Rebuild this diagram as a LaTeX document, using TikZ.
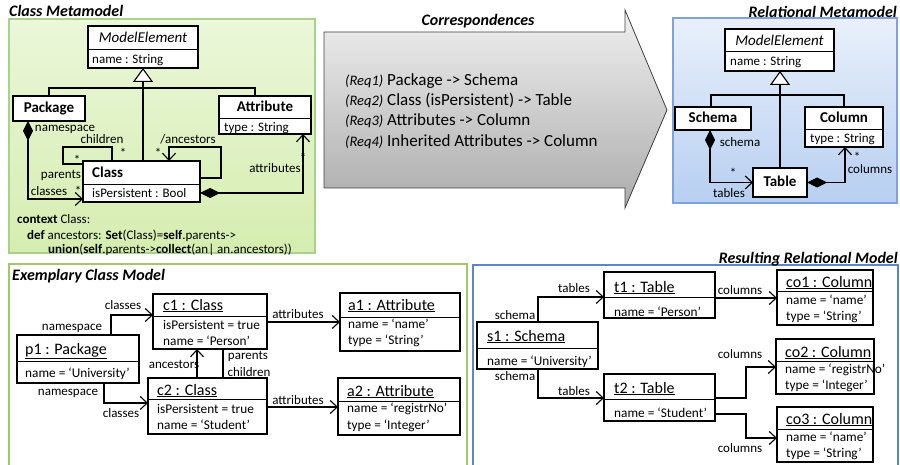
\documentclass[tikz,border=0pt]{standalone}
\usepackage{fontspec}
\setmainfont{Carlito}
\usetikzlibrary{arrows.meta}

% font sizes (1 unit = 1pt)
\newcommand\fsTitle{\fontsize{16}{19}\selectfont\bfseries\itshape}
\newcommand\fsName{\fontsize{15}{18}\selectfont}
\newcommand\fsAttr{\fontsize{13}{15}\selectfont}
\newcommand\fsObj{\fontsize{16}{19}\selectfont}
\newcommand\fsVal{\fontsize{13.3}{16}\selectfont}
\newcommand\fsReq{\fontsize{17}{20}\selectfont}
\newcommand\fsReqTag{\fontsize{14.5}{17}\selectfont\itshape}
\newcommand\fsOcl{\fontsize{13}{15}\selectfont}

\definecolor{grnFillT}{HTML}{EBF7D9}
\definecolor{grnFillB}{HTML}{D5EDB0}
\definecolor{grnLine}{HTML}{A9D18E}
\definecolor{bluFillT}{HTML}{E9F0FB}
\definecolor{bluFillB}{HTML}{B7CFF1}
\definecolor{bluLine}{HTML}{7DA3DA}
\definecolor{grnFrame}{HTML}{A3C76B}
\definecolor{bluFrame}{HTML}{5B87C8}
\definecolor{arrTop}{HTML}{F0F0F0}
\definecolor{arrBot}{HTML}{ABABAB}

% a UML box given by its corners, and a compartment separator
\newcommand\umlrect[5]{\node[umlbox, minimum width={#4-#2}, minimum height={#5-#3}] (#1) at ({(#2+#4)/2},{(#3+#5)/2}) {};}
\newcommand\umlsep[2]{\draw[sepline] (#1.west |- 0,#2) -- (#1.east |- 0,#2);}

\begin{document}
\begin{tikzpicture}[x=1pt,y=-1pt,
  umlbox/.style={draw=black, line width=1.2pt, fill=white, inner sep=0pt, outer sep=0pt},
  sepline/.style={line width=1pt},
  wire/.style={line width=1.1pt},
  assoc/.style={wire, -{Straight Barb[length=7pt,width=13pt]}},
  comp/.style={wire, {Diamond[length=20pt,width=10pt]}-{Straight Barb[length=7pt,width=13pt]}},
  gen/.style={wire, -{Triangle[length=14pt,width=20pt,fill=white]}},
  ttl/.style={font=\fsTitle, inner sep=0pt, text height=12pt, text depth=1.8pt},
  cname/.style={font=\fsName\bfseries, inner sep=0pt, text height=11.2pt, text depth=1.7pt},
  aname/.style={font=\fsName\itshape, inner sep=0pt, text height=11.2pt, text depth=1.7pt},
  attr/.style={font=\fsAttr, inner sep=0pt, anchor=west, text height=9.8pt, text depth=1.4pt},
  lbl/.style={font=\fsAttr, inner sep=0pt, text height=9.8pt, text depth=1.4pt},
  star/.style={font=\fsAttr, inner sep=0pt, text height=9.6pt, text depth=-5.2pt},
  oname/.style={font=\fsObj, inner sep=0pt, anchor=west, text height=12pt, text depth=1.8pt},
  oval/.style={font=\fsVal, inner sep=0pt, anchor=west, text height=10pt, text depth=1.5pt},
  req/.style={font=\fsReq, inner sep=0pt, anchor=west, text height=12.8pt, text depth=1.9pt},
  reqtag/.style={font=\fsReqTag, inner sep=0pt, anchor=west, text height=12.8pt, text depth=1.9pt},
  ocl/.style={font=\fsOcl, inner sep=0pt, anchor=west, text height=9.8pt, text depth=1.4pt}]

\useasboundingbox (0,0) rectangle (900,465);

% ---------- panels ----------
\path[draw=grnLine, line width=1.5pt, top color=grnFillT, bottom color=grnFillB] (9,19) rectangle (315,253);
\path[draw=bluLine, line width=1.5pt, top color=bluFillT, bottom color=bluFillB] (673,18) rectangle (897,203);
\draw[grnFrame, line width=1.6pt] (9,470) -- (9,264) -- (467,264) -- (467,470);
\draw[bluFrame, line width=1.6pt] (473,470) -- (473,265) -- (898,265) -- (898,470);

\node[ttl, anchor=west] (tCM) at (9,11) {Class Metamodel};
\node[ttl] (tCorr) at (478,20) {Correspondences};
\node[ttl, anchor=east] (tRM) at (897,12) {Relational Metamodel};
\node[ttl, anchor=west] (tEx) at (12,275) {Exemplary Class Model};
\node[ttl, anchor=east] (tRes) at (898,258) {Resulting Relational Model};

% ---------- correspondences arrow ----------
\path[draw=black!75, line width=0.8pt, top color=arrTop, bottom color=arrBot]
  (324,32) -- (625,32) -- (625,10) -- (667,110) -- (625,208) -- (625,188) -- (324,188) -- cycle;
\node[reqtag] (r1a) at (345,80) {(Req1)};
\node[req] (r1b) at (387,80) {Package -> Schema};
\node[reqtag] (r2a) at (345,100) {(Req2)};
\node[req] (r2b) at (387,100) {Class (isPersistent) -> Table};
\node[reqtag] (r3a) at (345,120) {(Req3)};
\node[req] (r3b) at (387,120) {Attributes -> Column};
\node[reqtag] (r4a) at (345,141) {(Req4)};
\node[req] (r4b) at (387,141) {Inherited Attributes -> Column};

% ---------- class metamodel ----------
\umlrect{me}{88}{26}{198}{68} \umlsep{me}{50}
\umlrect{pkg}{13}{96}{85}{121}
\umlrect{attrb}{219}{96}{311}{134} \umlsep{attrb}{119}
\umlrect{cls}{83}{161}{200}{202} \umlsep{cls}{185}

\node[aname] (meT) at (143,38) {ModelElement};
\node[attr] (meA) at (92,59) {name : String};
\node[cname] (pkgT) at (49,108) {Package};
\node[cname] (attrT) at (265,107) {Attribute};
\node[attr] (attrA) at (224,127) {type : String};
\node[cname, anchor=west] (clsT) at (92,173) {Class};
\node[attr] (clsA) at (92,193) {isPersistent : Bool};

\draw[gen] (cls.north -| 143,0) -- (me.south -| 143,0);
\draw[wire] (pkg.north) -- (pkg.north |- 0,88) -- (attrb.north |- 0,88 -| 255,0) -- (attrb.north -| 255,0);
\draw[comp] (pkg.south -| 28,0) |- (cls.west |- 0,199);
\draw[wire] (cls.west |- 0,164) -- (63,164) -- (63,147) -- (112,147) -- (cls.north -| 112,0);
\draw[assoc] (cls.east |- 0,178) -- (221,178) -- (221,147) -- (169,147) -- (cls.north -| 169,0);
\draw[comp] (cls.east |- 0,193) -| (attrb.south -| 303,0);

\node[lbl] (lNs) at (65,127) {namespace};
\node[lbl] (lCh) at (102,139) {children};
\node[star] (sCh) at (123,153) {*};
\node[star] (sPa) at (77,160) {*};
\node[lbl] (lPa) at (61,174) {parents};
\node[lbl] (lCl) at (49,191) {classes};
\node[star] (sCl) at (78,191) {*};
\node[lbl] (lAn) at (188,139) {/ancestors};
\node[star] (sAn) at (158,153) {*};
\node[star] (sAt) at (303,158) {*};
\node[lbl] (lAt) at (275,168) {attributes};

\node[ocl] (o1) at (17,219) {\textbf{context} Class:};
\node[ocl] (o2) at (27,235) {\textbf{def} ancestors: \textbf{Set}(Class)=\textbf{self}.parents->};
\node[ocl] (o3) at (48,249) {\textbf{union}(\textbf{self}.parents->\textbf{collect}(an| an.ancestors))};

% ---------- relational metamodel ----------
\umlrect{meR}{725}{29}{834}{71} \umlsep{meR}{52}
\umlrect{sch}{675}{107}{751}{130}
\umlrect{col}{805}{107}{883}{147} \umlsep{col}{130}
\umlrect{tab}{753}{168}{807}{197}

\node[aname] (meRT) at (779.5,41) {ModelElement};
\node[attr] (meRA) at (730,61) {name : String};
\node[cname] (schT) at (713,118) {Schema};
\node[cname] (colT) at (844,118) {Column};
\node[attr] (colA) at (810,138) {type : String};
\node[cname] (tabT) at (780,182) {Table};

\draw[gen] (tab.north) -- (tab.north |- meR.south);
\draw[wire] (sch.north -| 711,0) -- (711,95) -- (844,95) -- (col.north -| 844,0);
\draw[comp] (sch.south -| 710,0) |- (tab.west);
\draw[comp] (tab.east) -| (col.south -| 845,0);

\node[lbl] (lSc) at (740,142) {schema};
\node[star] (sTb) at (733,173) {*};
\node[lbl] (lTb) at (729,193) {tables};
\node[star] (sCo) at (857,157) {*};
\node[lbl] (lCo) at (870,169) {columns};

% ---------- exemplary class model ----------
\umlrect{p1}{17}{335}{139}{383} \umlsep{p1}{361}
\umlrect{c1}{153}{294}{267}{349} \umlsep{c1}{316}
\umlrect{c2}{148}{378}{267}{434} \umlsep{c2}{399}
\umlrect{a1}{340}{293}{460}{351} \umlsep{a1}{317}
\umlrect{a2}{338}{378}{460}{435} \umlsep{a2}{401}

\node[oname] (p1T) at (25,349) {\underline{p1 : Package}};
\node[oval] (p1A) at (25,373) {name = ‘University’};
\node[oname] (c1T) at (163,305) {\underline{c1 : Class}};
\node[oval] (c1A) at (163,325) {isPersistent = true};
\node[oval] (c1B) at (163,341) {name = ‘Person’};
\node[oname] (c2T) at (157,390) {\underline{c2 : Class}};
\node[oval] (c2A) at (157,409) {isPersistent = true};
\node[oval] (c2B) at (157,425) {name = ‘Student’};
\node[oname] (a1T) at (348,305) {\underline{a1 : Attribute}};
\node[oval] (a1A) at (348,324) {name = ‘name’};
\node[oval] (a1B) at (348,340) {type = ‘String’};
\node[oname] (a2T) at (347,391) {\underline{a2 : Attribute}};
\node[oval] (a2A) at (347,408) {name = ‘registrNo’};
\node[oval] (a2B) at (347,425) {type = ‘Integer’};

\draw[assoc] (p1.north -| 111,0) |- (c1.west |- 0,315);
\draw[assoc] (p1.south -| 104,0) |- (c2.west |- 0,403);
\draw[assoc] (c2.north -| 197,0) -- (c1.south -| 197,0);
\draw[wire] (c1.south -| 223,0) -- (c2.north -| 223,0);
\draw[assoc] (c1.east |- 0,322) -- (a1.west |- 0,322);
\draw[assoc] (c2.east |- 0,407) -- (a2.west |- 0,407);

\node[lbl] (eCl1) at (123,305) {classes};
\node[lbl] (eNs1) at (72,326) {namespace};
\node[lbl] (eNs2) at (68,391) {namespace};
\node[lbl] (eCl2) at (121,413) {classes};
\node[lbl] (eAn) at (174,364) {ancestors};
\node[lbl] (ePa) at (248,355) {parents};
\node[lbl] (eCh) at (249,372) {children};
\node[lbl] (eAt1) at (298,314) {attributes};
\node[lbl] (eAt2) at (298,400) {attributes};

% ---------- resulting relational model ----------
\umlrect{s1}{477}{322}{598}{369} \umlsep{s1}{348}
\umlrect{t1}{604}{272}{715}{318} \umlsep{t1}{297}
\umlrect{t2}{604}{374}{715}{421} \umlsep{t2}{399}
\umlrect{co1}{777}{270}{873}{325} \umlsep{co1}{292}
\umlrect{co2}{776}{339}{874}{394} \umlsep{co2}{361}
\umlrect{co3}{777}{407}{873}{462} \umlsep{co3}{429}

\node[oname] (s1T) at (487,336) {\underline{s1 : Schema}};
\node[oval] (s1A) at (487,361) {name = ‘University’};
\node[oname] (t1T) at (614,287) {\underline{t1 : Table}};
\node[oval] (t1A) at (614,312) {name = ‘Person’};
\node[oname] (t2T) at (614,388) {\underline{t2 : Table}};
\node[oval] (t2A) at (614,413) {name = ‘Student’};
\node[oname] (co1T) at (786,282) {\underline{co1 : Column}};
\node[oval] (co1A) at (786,300) {name = ‘name’};
\node[oval] (co1B) at (786,316) {type = ‘String’};
\node[oname] (co2T) at (785,352) {\underline{co2 : Column}};
\node[oval] (co2A) at (785,369) {name = ‘registrNo’};
\node[oval] (co2B) at (785,385) {type = ‘Integer’};
\node[oname] (co3T) at (786,419) {\underline{co3 : Column}};
\node[oval] (co3A) at (786,437) {name = ‘name’};
\node[oval] (co3B) at (786,453) {type = ‘String’};

\draw[assoc] (s1.north -| 538,0) |- (t1.west |- 0,297);
\draw[assoc] (s1.south -| 538,0) |- (t2.west |- 0,398);
\draw[assoc] (t1.east |- 0,298) -- (co1.west |- 0,298);
\draw[assoc] (t2.east |- 0,398) -- (746,398) |- (co2.west |- 0,367);
\draw[assoc] (t2.east |- 0,414) -- (746,414) |- (co3.west |- 0,438);

\node[lbl] (rTb1) at (574,288) {tables};
\node[lbl] (rSc1) at (515,315) {schema};
\node[lbl] (rSc2) at (515,376) {schema};
\node[lbl] (rTb2) at (574,391) {tables};
\node[lbl] (rCo1) at (740,290) {columns};
\node[lbl] (rCo2) at (740,354) {columns};
\node[lbl] (rCo3) at (740,448) {columns};

\end{tikzpicture}
\end{document}
